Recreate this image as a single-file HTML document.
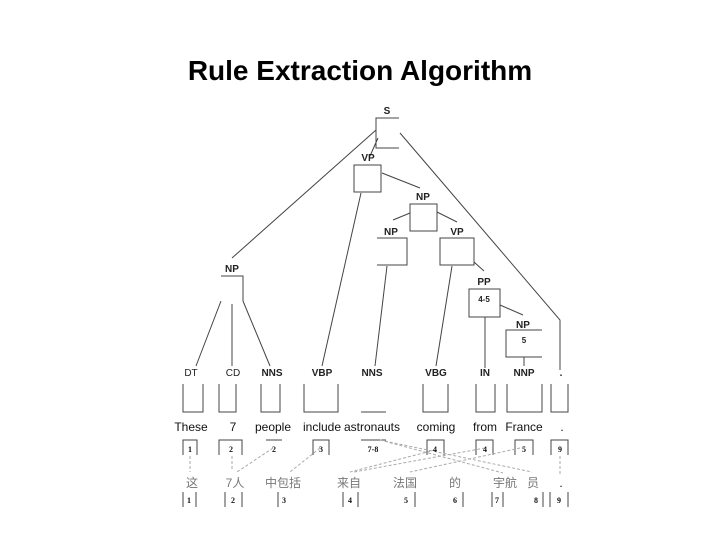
<!DOCTYPE html>
<html><head><style>
html,body{margin:0;padding:0;background:#fff;width:720px;height:540px;overflow:hidden}
</style></head><body>
<svg width="720" height="540" xmlns="http://www.w3.org/2000/svg" font-family="Liberation Sans, sans-serif">
<text x="360" y="80" text-anchor="middle" font-size="28" font-weight="bold" fill="#000">Rule Extraction Algorithm</text>
<g stroke="#444" stroke-width="1" fill="none">
<path d="M399,118 H376 V148 H399"/>
<line x1="376" y1="130" x2="232" y2="258"/>
<line x1="378" y1="138" x2="370" y2="156"/>
<path d="M400,133 L560,320 V370"/>
<rect x="354" y="165" width="27" height="27"/>
<line x1="382" y1="173" x2="420" y2="188"/>
<line x1="361" y1="193" x2="322" y2="366"/>
<rect x="410" y="204" width="27" height="27"/>
<line x1="410" y1="213" x2="393" y2="220"/>
<line x1="437" y1="212" x2="457" y2="222"/>
<path d="M377,238 H407 V265 H377"/>
<line x1="387" y1="266" x2="375" y2="366"/>
<rect x="440" y="238" width="34" height="27"/>
<line x1="452" y1="266" x2="436" y2="366"/>
<line x1="474" y1="262" x2="484" y2="271"/>
<rect x="469" y="289" width="31" height="28"/>
<line x1="500" y1="305" x2="523" y2="315"/>
<line x1="485" y1="317" x2="485" y2="368"/>
<path d="M542,330 H506 V357 H542"/>
<line x1="524" y1="357" x2="524" y2="366"/>
<path d="M221,276 H243 V301"/>
<line x1="221" y1="301" x2="196" y2="366"/>
<line x1="232" y1="304" x2="232" y2="366"/>
<line x1="243" y1="301" x2="270" y2="366"/>
<path d="M183,384 V412 H203 V384"/>
<path d="M219,384 V412 H236 V384"/>
<path d="M261,384 V412 H280 V384"/>
<path d="M304,384 V412 H338 V384"/>
<path d="M361,412 H386"/>
<path d="M423,384 V412 H448 V384"/>
<path d="M476,384 V412 H495 V384"/>
<path d="M507,384 V412 H542 V384"/>
<path d="M551,384 V412 H568 V384"/>
<path d="M183,455 V440 H197 V455"/>
<path d="M219,455 V440 H242 V455"/>
<path d="M266,440 H282"/>
<path d="M313,455 V440 H329 V455"/>
<path d="M361,440 H386"/>
<path d="M427,455 V440 H444 V455"/>
<path d="M476,455 V440 H493 V455"/>
<path d="M515,455 V440 H533 V455"/>
<path d="M551,455 V440 H568 V455"/>
<path d="M183,492 V507 M196,492 V507"/>
<path d="M225,492 V507 M242,492 V507"/>
<path d="M278,492 V507"/>
<path d="M343,492 V507 M358,492 V507"/>
<path d="M415,492 V507"/>
<path d="M463,492 V507"/>
<path d="M492,492 V507 M503,492 V507"/>
<path d="M543,492 V507"/>
<path d="M550,492 V507 M568,492 V507"/>
</g>
<g stroke="#aaa" stroke-width="1" stroke-dasharray="3,2" fill="none">
<line x1="190" y1="456" x2="190" y2="472"/>
<line x1="232" y1="456" x2="232" y2="470"/>
<line x1="273" y1="448" x2="237" y2="472"/>
<line x1="320" y1="448" x2="290" y2="472"/>
<line x1="380" y1="440" x2="503" y2="473"/>
<line x1="380" y1="440" x2="532" y2="472"/>
<line x1="435" y1="450" x2="350" y2="472"/>
<line x1="485" y1="448" x2="354" y2="472"/>
<line x1="520" y1="448" x2="410" y2="472"/>
<line x1="560" y1="456" x2="560" y2="475"/>
</g>
<g font-size="10" font-weight="bold" fill="#222" text-anchor="middle">
<text x="387" y="114">S</text>
<text x="368" y="161">VP</text>
<text x="423" y="200">NP</text>
<text x="391" y="235">NP</text>
<text x="457" y="235">VP</text>
<text x="484" y="285">PP</text>
<text x="523" y="328">NP</text>
<text x="232" y="272">NP</text>
<text x="484" y="302" font-size="8">4-5</text>
<text x="524" y="343" font-size="8">5</text>
<text x="191" y="376" font-weight="normal">DT</text>
<text x="233" y="376" font-weight="normal">CD</text>
<text x="272" y="376">NNS</text>
<text x="322" y="376">VBP</text>
<text x="372" y="376">NNS</text>
<text x="436" y="376">VBG</text>
<text x="485" y="376">IN</text>
<text x="524" y="376">NNP</text>
<text x="561" y="376">.</text>
</g>
<g font-size="12" fill="#111" text-anchor="middle">
<text x="191" y="431">These</text>
<text x="233" y="431">7</text>
<text x="273" y="431">people</text>
<text x="322" y="431">include</text>
<text x="372" y="431">astronauts</text>
<text x="436" y="431">coming</text>
<text x="485" y="431">from</text>
<text x="524" y="431">France</text>
<text x="562" y="431">.</text>
</g>
<g font-size="8" font-weight="bold" fill="#111" text-anchor="middle" font-family="Liberation Serif, serif">
<text x="190" y="452">1</text>
<text x="231" y="452">2</text>
<text x="274" y="452">2</text>
<text x="321" y="452">3</text>
<text x="373" y="452">7-8</text>
<text x="435" y="452">4</text>
<text x="485" y="452">4</text>
<text x="524" y="452">5</text>
<text x="560" y="452">9</text>
<text x="189" y="503">1</text>
<text x="233" y="503">2</text>
<text x="284" y="503">3</text>
<text x="350" y="503">4</text>
<text x="406" y="503">5</text>
<text x="455" y="503">6</text>
<text x="497" y="503">7</text>
<text x="536" y="503">8</text>
<text x="559" y="503">9</text>
</g>
<g font-size="12" fill="#777" text-anchor="middle" font-family="Liberation Sans, Noto Sans CJK SC, sans-serif">
<text x="192" y="487">这</text>
<text x="235" y="487">7人</text>
<text x="283" y="487">中包括</text>
<text x="349" y="487">来自</text>
<text x="405" y="487">法国</text>
<text x="455" y="487">的</text>
<text x="505" y="487">宇航</text>
<text x="533" y="487">员</text>
<text x="561" y="487" fill="#111">.</text>
</g>
</svg>
</body></html>
